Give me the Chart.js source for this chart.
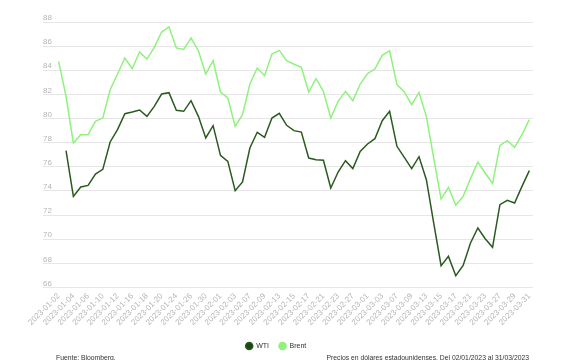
<!DOCTYPE html>
<html>
<head>
<meta charset="utf-8">
<script src="https://cdn.jsdelivr.net/npm/chart.js@4.4.0/dist/chart.umd.min.js"></script>
<style>
  body { margin: 0; background: #fff; }
  #wrap { position: relative; width: 580px; height: 360px; }
  .note { position: absolute; top: 354px; font: 6.8px "Liberation Sans", Arial, sans-serif; color: #333; white-space: nowrap; }
</style>
</head>
<body>
<div id="wrap">
  <canvas id="oilChart"></canvas>
  <div class="note" style="left:56px">Fuente: Bloomberg.</div>
  <div class="note" style="right:51px">Precios en dólares estadounidenses. Del 02/01/2023 al 31/03/2023</div>
</div>
<script>
var dates = [
  "2023-01-02", "2023-01-03", "2023-01-04", "2023-01-05", "2023-01-06",
  "2023-01-09", "2023-01-10", "2023-01-11", "2023-01-12", "2023-01-13",
  "2023-01-16", "2023-01-17", "2023-01-18", "2023-01-19", "2023-01-20",
  "2023-01-23", "2023-01-24", "2023-01-25", "2023-01-26", "2023-01-27",
  "2023-01-30", "2023-01-31",
  "2023-02-01", "2023-02-02", "2023-02-03", "2023-02-06", "2023-02-07",
  "2023-02-08", "2023-02-09", "2023-02-10", "2023-02-13", "2023-02-14",
  "2023-02-15", "2023-02-16", "2023-02-17", "2023-02-20", "2023-02-21",
  "2023-02-22", "2023-02-23", "2023-02-24", "2023-02-27", "2023-02-28",
  "2023-03-01", "2023-03-02", "2023-03-03", "2023-03-06", "2023-03-07",
  "2023-03-08", "2023-03-09", "2023-03-10", "2023-03-13", "2023-03-14",
  "2023-03-15", "2023-03-16", "2023-03-17", "2023-03-20", "2023-03-21",
  "2023-03-22", "2023-03-23", "2023-03-24", "2023-03-27", "2023-03-28",
  "2023-03-29", "2023-03-30", "2023-03-31",
];

var wti = [
  null, 77.34, 73.55, 74.33, 74.46, 75.40, 75.79, 78.06, 79.08, 80.40,
  80.54, 80.71, 80.18, 81.01, 82.03, 82.14, 80.68, 80.60, 81.48, 80.18,
  78.39, 79.41, 76.95, 76.45, 74.02, 74.74, 77.56, 78.86, 78.44, 80.04,
  80.43, 79.44, 79.00, 78.88, 76.73, 76.59, 76.54, 74.24, 75.57, 76.51,
  75.85, 77.28, 77.89, 78.33, 79.82, 80.60, 77.70, 76.78, 75.85, 76.84,
  74.93, 71.34, 67.81, 68.58, 66.98, 67.83, 69.69, 70.93, 70.04, 69.33,
  72.86, 73.22, 73.00, 74.38, 75.68,
];

var brent = [
  84.74, 81.84, 77.97, 78.66, 78.66, 79.77, 80.04, 82.39, 83.69, 85.02,
  84.13, 85.51, 84.93, 85.90, 87.17, 87.59, 85.85, 85.73, 86.67, 85.62,
  83.69, 84.80, 82.20, 81.70, 79.35, 80.32, 82.86, 84.19, 83.55, 85.35,
  85.65, 84.80, 84.50, 84.24, 82.20, 83.30, 82.25, 80.04, 81.43, 82.25,
  81.48, 82.86, 83.72, 84.10, 85.24, 85.62, 82.81, 82.20, 81.15, 82.16,
  80.18, 76.73, 73.33, 74.30, 72.81, 73.55, 75.02, 76.40, 75.49, 74.60,
  77.78, 78.17, 77.61, 78.66, 79.91,
];

var yMin = 66;
var yMax = 88;
var yStep = 2;

var tickFont = { family: "'Liberation Sans', Arial, sans-serif", size: 8 };

// the legend sits a little left of the plot centre in the original
var legendNudge = {
  id: "legendNudge",
  afterLayout: function (chart) {
    chart.legend.left -= 12;
    chart.legend.right -= 12;
  },
};

var oilChart = new Chart(document.getElementById("oilChart"), {
  type: "line",
  data: {
    labels: dates,
    datasets: [
      {
        label: "WTI",
        data: wti,
        borderColor: "#2b5a20",
        backgroundColor: "#1d4514",
        borderWidth: 1.5,
        pointRadius: 0,
        tension: 0,
      },
      {
        label: "Brent",
        data: brent,
        borderColor: "#8ff27c",
        backgroundColor: "#8ff27c",
        borderWidth: 1.5,
        pointRadius: 0,
        tension: 0,
      },
    ],
  },
  plugins: [legendNudge],
  options: {
    responsive: true,
    maintainAspectRatio: false,
    animation: false,
    devicePixelRatio: 1,
    layout: { padding: { top: 22, left: 43, right: 47, bottom: 0.5 } },
    plugins: {
      tooltip: { enabled: false },
      legend: {
        position: "bottom",
        labels: {
          usePointStyle: true,
          pointStyle: "circle",
          boxWidth: 7,
          boxHeight: 5,
          padding: 10,
          color: "#333",
          font: { family: "'Liberation Sans', Arial, sans-serif", size: 7 },
        },
      },
    },
    scales: {
      x: {
        offset: true,
        grid: { display: false, drawTicks: false },
        border: { display: false },
        afterFit: function (axis) {
          axis.height = 45;
        },
        ticks: {
          autoSkip: false,
          maxRotation: 45,
          minRotation: 45,
          padding: 4,
          color: "#b5b5b5",
          font: tickFont,
          callback: function (value, index) {
            return index % 2 === 0 ? dates[index] : "";
          },
        },
      },
      y: {
        min: yMin,
        max: yMax,
        grid: { color: "#e6e6e6", lineWidth: 1, tickLength: 12 },
        border: { display: false },
        afterFit: function (axis) {
          axis.width = 12;
        },
        ticks: {
          stepSize: yStep,
          crossAlign: "far",
          labelOffset: -4,
          color: "#b5b5b5",
          font: tickFont,
        },
      },
    },
  },
});
</script>
</body>
</html>
